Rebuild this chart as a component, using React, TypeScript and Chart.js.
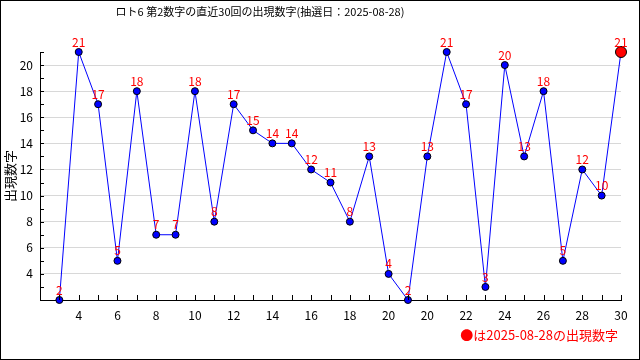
import React, { useEffect, useRef } from 'react';
import { Chart, registerables } from 'chart.js';
Chart.register(...registerables);

const xLabels = ['3','4','5','6','7','8','9','10','11','12','13','14','15','16','17','18','19','20','19','20','21','22','23','24','25','26','27','28','29','30'];
const values = [2,21,17,5,18,7,7,18,8,17,15,14,14,12,11,8,13,4,2,13,21,17,3,20,13,18,5,12,10,21];
const yMin = 2;
const yMax = 21;
const titleText = 'ロト6 第2数字の直近30回の出現数字(抽選日：2025-08-28)';
const yTitle = '出現数字';
const noteText = '●は2025-08-28の出現数字';

const FONT = '"Noto Sans CJK JP", "DejaVu Sans", sans-serif';

export default function App() {
  const ref = useRef<HTMLCanvasElement>(null);
  useEffect(() => {
    const last = values.length - 1;
    const deco = {
      id: 'deco',
      afterDraw(chart: any) {
        const ctx = chart.ctx as CanvasRenderingContext2D;
        const xs = chart.scales.x;
        const ys = chart.scales.y;
        const ca = chart.chartArea;
        ctx.save();
        // ticks inside
        ctx.strokeStyle = '#000';
        ctx.lineWidth = 1;
        ctx.beginPath();
        for (let i = 0; i < values.length; i++) {
          const px = Math.round(xs.getPixelForValue(i)) + 0.5;
          ctx.moveTo(px, ca.bottom);
          ctx.lineTo(px, ca.bottom - 5);
        }
        for (let v = yMin + 1; v <= yMax; v++) {
          const py = Math.round(ys.getPixelForValue(v)) + 0.5;
          ctx.moveTo(ca.left, py);
          ctx.lineTo(ca.left + 4, py);
        }
        ctx.stroke();
        // data labels
        ctx.fillStyle = '#ff0000';
        ctx.font = '12px ' + FONT;
        ctx.textAlign = 'center';
        ctx.textBaseline = 'bottom';
        const meta = chart.getDatasetMeta(0);
        meta.data.forEach((pt: any, i: number) => {
          ctx.fillText(String(values[i]), pt.x, pt.y - 4);
        });
        // title
        ctx.fillStyle = '#000';
        ctx.font = '11px ' + FONT;
        ctx.textAlign = 'center';
        ctx.textBaseline = 'middle';
        ctx.fillText(titleText, 260, 12);
        // y title
        ctx.save();
        ctx.font = '13px ' + FONT;
        ctx.translate(10, 176);
        ctx.rotate(-Math.PI / 2);
        ctx.fillText(yTitle, 0, 0);
        ctx.restore();
        // note
        ctx.fillStyle = '#ff0000';
        ctx.textAlign = 'right';
        ctx.font = '13px ' + FONT;
        ctx.fillText(noteText, 618, 335);
        // frame
        ctx.strokeStyle = '#000';
        ctx.strokeRect(0.5, 0.5, 639, 359);
        ctx.restore();
      },
    };
    const chart = new Chart(ref.current!, {
      type: 'line',
      data: {
        datasets: [
          {
            data: values.map((v, i) => ({ x: i, y: v })),
            borderColor: '#0000ff',
            borderWidth: 1,
            pointBackgroundColor: values.map((_, i) => (i === last ? '#ff0000' : '#0000ff')),
            pointBorderColor: '#000',
            pointBorderWidth: 1,
            pointRadius: values.map((_, i) => (i === last ? 5.5 : 3.5)),
            tension: 0,
            clip: false as any,
          },
        ],
      },
      plugins: [deco],
      options: {
        animation: false,
        responsive: false,
        devicePixelRatio: 1,
        layout: { padding: { top: 52, right: 19, bottom: 36, left: 0 } },
        plugins: { legend: { display: false }, tooltip: { enabled: false }, title: { display: false } },
        scales: {
          x: {
            type: 'linear',
            min: -1,
            max: values.length - 1,
            afterFit: (s: any) => { s.height = 24; },
            grid: { display: false, drawTicks: false },
            border: { display: true, color: '#000', width: 1 },
            ticks: {
              stepSize: 1,
              autoSkip: false,
              maxRotation: 0,
              padding: 8,
              color: '#000',
              font: { family: FONT, size: 12 },
              callback: (v: any) => {
                const i = Number(v);
                return i >= 0 && i % 2 === 1 ? xLabels[i] : '';
              },
            },
          },
          y: {
            type: 'linear',
            min: yMin,
            max: yMax,
            afterFit: (s: any) => { s.width = 40; },
            grid: {
              drawTicks: false,
              color: (c: any) => {
                const v = c.tick?.value;
                return v >= 4 && v <= 20 && v % 2 === 0 ? '#d8d8d8' : 'rgba(0,0,0,0)';
              },
            },
            border: { display: true, color: '#000', width: 1 },
            ticks: {
              stepSize: 1,
              autoSkip: false,
              padding: 7,
              color: '#000',
              font: { family: FONT, size: 12 },
              callback: (v: any) => {
                const n = Number(v);
                return n >= 4 && n <= 20 && n % 2 === 0 ? String(n) : '';
              },
            },
          },
        },
      },
    } as any);
    return () => chart.destroy();
  }, []);
  return (
    <div style={{ position: 'fixed', left: 0, top: 0, width: 640, height: 360, background: '#fff' }}>
      <canvas ref={ref} width={640} height={360} style={{ width: 640, height: 360 }} />
    </div>
  );
}
